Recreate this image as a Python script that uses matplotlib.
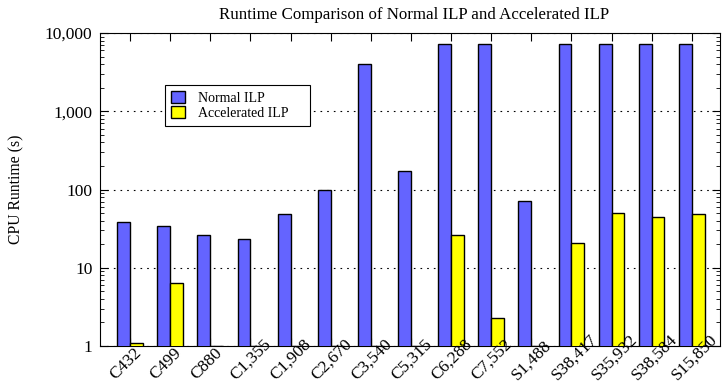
import matplotlib
matplotlib.use('Agg')
import matplotlib.pyplot as plt
import numpy as np
from matplotlib.ticker import FuncFormatter, LogLocator, NullFormatter
import matplotlib.transforms as mtransforms

plt.rcParams['font.family'] = ['Liberation Serif', 'DejaVu Serif']

circuits = ['C432', 'C499', 'C880', 'C1,355', 'C1,908', 'C2,670', 'C3,540', 'C5,315',
            'C6,288', 'C7,552', 'S1,488', 'S38,417', 'S35,932', 'S38,584', 'S15,850']
normal_ilp = [38, 34, 26, 23, 48, 100, 4000, 172, 7200, 7200, 72, 7200, 7200, 7200, 7200]
accel_ilp = [1.1, 6.3, 1.0, 1.0, 1.0, 1.0, 1.0, 1.0, 26, 2.3, 1.0, 20.5, 49.5, 44, 49]

fig = plt.figure(figsize=(7.22, 3.85), dpi=100)
ax = fig.add_axes([0.1385, 0.1013, 0.8585, 0.8127])

x = np.arange(len(circuits))
w = 0.32
ax.bar(x - w / 2, normal_ilp, w, bottom=0, color='#6464ff', edgecolor='black',
       linewidth=1.0, label='Normal ILP', zorder=3)
ax.bar(x + w / 2, accel_ilp, w, bottom=0, color='#ffff00', edgecolor='black',
       linewidth=1.0, label='Accelerated ILP', zorder=3)

ax.set_yscale('log')
ax.set_ylim(1, 10000)
ax.set_xlim(-0.75, 14.7)
ax.yaxis.set_major_formatter(FuncFormatter(lambda v, p: '{:,.0f}'.format(v)))
ax.yaxis.set_minor_locator(LogLocator(base=10, subs=np.arange(2, 10)))
ax.yaxis.set_minor_formatter(NullFormatter())
ax.grid(axis='y', which='major', linestyle=(0, (1.5, 4.5)), color='black', linewidth=0.8, zorder=1)

ax.set_xticks(x)
ax.set_xticklabels([])
# rotated labels, start point below-left of each group
trans = mtransforms.blended_transform_factory(ax.transData, ax.transAxes)
px = mtransforms.ScaledTranslation(-14.5 / 100, -34 / 100, fig.dpi_scale_trans)
for xi, name in zip(x, circuits):
    ax.text(xi, 0, name, transform=trans + px, rotation=45, rotation_mode='anchor',
            ha='left', va='baseline', fontsize=12.5, clip_on=False)

ax.tick_params(axis='both', which='both', direction='in', top=True, right=True)
ax.tick_params(axis='y', which='major', length=6, labelsize=12.5, pad=5.5)
ax.tick_params(axis='y', which='minor', length=3)
ax.tick_params(axis='x', which='major', length=6)

ax.set_ylabel('CPU Runtime (s)', fontsize=11.3)
ax.yaxis.set_label_coords(-0.122, 0.5)
ax.set_title('Runtime Comparison of Normal ILP and Accelerated ILP', fontsize=12.2, pad=10,
             x=0.507)

leg = ax.legend(loc='upper left', bbox_to_anchor=(0.105, 0.697, 0.234, 0.137),
                mode='expand', borderaxespad=0,
                fancybox=False, edgecolor='black', framealpha=1, fontsize=10,
                handlelength=1.0, handleheight=0.95, handletextpad=0.95,
                borderpad=0.45, labelspacing=0.1)
leg.get_frame().set_linewidth(0.8)

fig.savefig('out.png', dpi=100)
